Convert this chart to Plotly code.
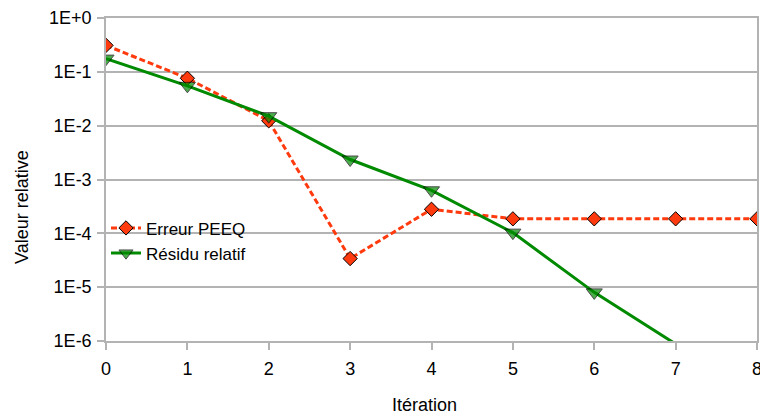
import plotly.graph_objects as go

iterations = [0, 1, 2, 3, 4, 5, 6, 7, 8]
erreur_peeq = [3.1e-1, 7.6e-2, 1.23e-2, 3.4e-5, 2.8e-4, 1.86e-4, 1.86e-4, 1.86e-4, 1.86e-4]
residu_iter = [0, 1, 2, 3, 4, 5, 6, 7]
residu_relatif = [1.76e-1, 5.5e-2, 1.5e-2, 2.35e-3, 6.3e-4, 1.03e-4, 8.0e-6, 8.8e-7]
y_tick_vals = [1, 1e-1, 1e-2, 1e-3, 1e-4, 1e-5, 1e-6]
y_tick_text = ["1E+0", "1E-1", "1E-2", "1E-3", "1E-4", "1E-5", "1E-6"]

RED = "#ff3a0e"
GREEN = "#008a00"
YMIN = 1e-6

fig = go.Figure()
fig.add_trace(go.Scatter(
    x=iterations, y=erreur_peeq, name="Erreur PEEQ", mode="lines+markers",
    line=dict(color=RED, width=3, dash="6px,3px"),
    marker=dict(symbol="diamond", size=11, color=RED, line=dict(color="black", width=1)),
))
fig.add_trace(go.Scatter(
    x=residu_iter, y=residu_relatif, name="Résidu relatif", mode="lines+markers",
    line=dict(color=GREEN, width=3),
    marker=dict(symbol="triangle-down", size=[14 if v >= YMIN else 0 for v in residu_relatif],
                color=GREEN, line=dict(color="black", width=1)),
))

FONT = "Liberation Sans, Arial, sans-serif"
axis_font = dict(family=FONT, size=18, color="black")
fig.update_layout(
    width=760, height=416,
    margin=dict(l=106, r=3, t=18, b=75, autoexpand=False),
    paper_bgcolor="white", plot_bgcolor="white",
    font=axis_font,
    showlegend=True,
    legend=dict(x=0.0, y=0.31, xanchor="left", yanchor="middle",
                bgcolor="rgba(0,0,0,0)", font=dict(family=FONT, size=17, color="black"),
                itemwidth=30, tracegroupgap=0),
    annotations=[
        dict(text="Valeur relative", xref="paper", yref="paper", x=-0.129, y=0.415,
             xanchor="center", yanchor="middle", textangle=-90, showarrow=False,
             font=axis_font),
        dict(text="Itération", xref="paper", yref="paper", x=0.489, y=-0.198,
             xanchor="center", yanchor="middle", showarrow=False, font=axis_font),
    ],
)
fig.update_xaxes(
    range=[0, 8], dtick=1, tick0=0, showgrid=False, automargin=False,
    showline=True, linecolor="#b3b3b3", linewidth=1.5, mirror=True,
    ticks="outside", ticklen=7, tickcolor="#b3b3b3", tickwidth=1.5,
    tickfont=axis_font, zeroline=False, ticklabelstandoff=4,
    ticklabeloverflow="allow",
)
fig.update_yaxes(
    type="log", range=[-6, 0], tickvals=y_tick_vals, ticktext=y_tick_text,
    showgrid=True, gridcolor="#b3b3b3", gridwidth=1.5, automargin=False,
    showline=True, linecolor="#b3b3b3", linewidth=1.5, mirror=True,
    ticks="outside", ticklen=7, tickcolor="#b3b3b3", tickwidth=1.5,
    tickfont=axis_font, zeroline=False, ticklabelstandoff=2,
)
fig.write_html("out.html", config={"displayModeBar": False},
               post_script="document.body.style.margin='0';")
